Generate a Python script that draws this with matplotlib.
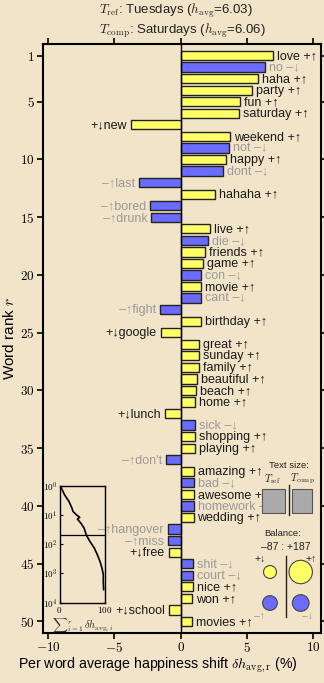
import numpy as np
import matplotlib
matplotlib.use('Agg')
import matplotlib.pyplot as plt
from matplotlib.patches import Circle, Rectangle
from matplotlib.ticker import FuncFormatter

plt.rcParams['mathtext.fontset'] = 'cm'
plt.rcParams['font.family'] = ['Liberation Sans', 'DejaVu Sans']

# word shift data (rank order)
words = ['love', 'no', 'haha', 'party', 'fun', 'saturday', 'new', 'weekend', 'not', 'happy',
         'dont', 'last', 'hahaha', 'bored', 'drunk', 'live', 'die', 'friends', 'game', 'con',
         'movie', 'cant', 'fight', 'birthday', 'google', 'great', 'sunday', 'family', 'beautiful', 'beach',
         'home', 'lunch', 'sick', 'shopping', 'playing', "don't", 'amazing', 'bad', 'awesome', 'homework',
         'wedding', 'hangover', 'miss', 'free', 'shit', 'court', 'nice', 'won', 'school', 'movies']
word_type = ['+', '-', '+', '+', '+', '+', '+', '+', '-', '+',
             '-', '-', '+', '-', '-', '+', '-', '+', '+', '-',
             '+', '-', '-', '+', '+', '+', '+', '+', '+', '+',
             '+', '+', '-', '+', '+', '-', '+', '-', '+', '-',
             '+', '-', '-', '+', '-', '-', '+', '+', '+', '+']
shifts = [6.94, 6.36, 5.81, 5.40, 4.50, 4.44, -3.74, 3.74, 3.66, 3.43,
          3.18, -3.16, 2.60, -2.30, -2.22, 2.22, 2.07, 1.87, 1.69, 1.57,
          1.56, 1.54, -1.54, 1.52, -1.52, 1.41, 1.41, 1.40, 1.24, 1.16,
          1.11, -1.16, 1.09, 1.06, 1.05, -1.11, 1.03, 1.01, 1.00, 0.98,
          0.97, -0.96, -0.95, -0.91, 0.93, 0.92, 0.90, 0.89, -0.88, 0.87]

# cumulative shift (inset)
cum_rank = [1, 2.08, 3.51, 5.93, 7.7, 10.0, 12.3, 14.0, 19.2, 28.5,
            50.6, 81, 136, 230, 390, 660, 1110, 1880, 3640]
cum_shift = [1.5, 11.1, 20.7, 27.4, 29.6, 37.0, 44.4, 39.3, 46.7, 54.0,
             59.3, 66.7, 76.3, 83.0, 88.9, 93.3, 96.3, 96.3, 97.0]

# summary panels
text_size = [1.0, 0.83]            # T_ref, T_comp
balance = [-38, 124, -49, 63]      # +down, +up, -up, -down

ref_name, ref_h = 'Tuesdays', 6.03
comp_name, comp_h = 'Saturdays', 6.06

yellow = '#ffff66'
blue = '#6b6bff'
gray = '#9a9a9a'
bg = '#f1e4c8'

fig = plt.figure(figsize=(3.24, 6.83), dpi=100, facecolor=bg)
ax = fig.add_axes([43 / 324, 1 - 633 / 683, 278 / 324, 589 / 683], facecolor=bg)

ranks = np.arange(1, len(words) + 1)
colors = [yellow if t == '+' else blue for t in word_type]
ax.barh(ranks, shifts, height=0.8, color=colors, edgecolor='#222222', linewidth=1.0, zorder=3)
ax.axvline(0, color='black', lw=1.0, zorder=4)

for r, w, t, s in zip(ranks, words, word_type, shifts):
    sign = '+' if t == '+' else '\u2013'
    up = (t == '+') == (s > 0)
    arrow = '\u2191' if up else '\u2193'
    col = '#1a1a1a' if t == '+' else gray
    if s > 0:
        ax.text(s + 0.3, r + 0.05, f'{w} {sign}{arrow}', ha='left', va='center', fontsize=9.0,
                color=col, zorder=5)
    else:
        ax.text(s - 0.3, r + 0.05, f'{sign}{arrow}{w}', ha='right', va='center', fontsize=9.0,
                color=col, zorder=5)

ax.set_xlim(-10.4, 10.6)
ax.set_ylim(51, 0)
ax.set_xticks([-10, -5, 0, 5, 10])
ax.set_yticks([1, 5, 10, 15, 20, 25, 30, 35, 40, 45, 50])
ax.xaxis.set_major_formatter(FuncFormatter(lambda v, p: f'${v:g}$'))
ax.yaxis.set_major_formatter(FuncFormatter(lambda v, p: f'${v:g}$'))
ax.tick_params(direction='out', top=True, right=True, length=4, width=1.2, labelsize=9.5, pad=2)
for sp in ax.spines.values():
    sp.set_linewidth(1.5)
ax.set_xlabel(r'Per word average happiness shift $\delta h_{\rm avg,r}$ (%)', fontsize=10.2, labelpad=3)
ax.xaxis.set_label_coords(0.414, -0.038)
ax.set_ylabel(r'Word rank $r$', fontsize=11, labelpad=2)
fig.text(182 / 324, 1 - 20.5 / 683,
         f'$T_{{\\rm ref}}$: {ref_name} ($h_{{\\rm avg}}$={ref_h:.2f})\n'
         f'$T_{{\\rm comp}}$: {comp_name} ($h_{{\\rm avg}}$={comp_h:.2f})',
         fontsize=9.5, ha='center', va='center', multialignment='left', color='#222222',
         linespacing=1.15)

# inset: cumulative sum
ins = fig.add_axes([59.5 / 324, 1 - 602.5 / 683, 45.5 / 324, 117 / 683], facecolor='none')
ins.plot(cum_shift, cum_rank, color='black', lw=1.2)
ins.axhline(50, color='black', lw=0.9)
ins.set_yscale('log')
ins.set_ylim(1e4, 1)
ins.set_xlim(0, 100)
ins.set_xticks([0, 100])
ins.set_yticks([1, 10, 100, 1000, 10000])
ins.set_yticklabels([r'$10^{0}$', r'$10^{1}$', r'$10^{2}$', r'$10^{3}$', r'$10^{4}$'])
ins.xaxis.set_major_formatter(FuncFormatter(lambda v, p: f'${v:g}$'))
ins.minorticks_off()
ins.tick_params(direction='in', length=2, width=0.8, labelsize=6.5, pad=1.5)
for sp in ins.spines.values():
    sp.set_linewidth(1.0)
ins.set_xlabel(r'${\sum}_{i=1}^{r}\,\delta h_{{\rm avg},i}$', fontsize=7.5, labelpad=1, color='#333333')

# overlay in pixel coordinates for summary panels
ov = fig.add_axes([0, 0, 1, 1], facecolor='none')
ov.set_xlim(0, 324)
ov.set_ylim(683, 0)
ov.axis('off')

ov.text(289, 466, 'Text size:', ha='center', va='center', fontsize=6.8, color='#222222')
ov.text(272, 479, r'$T_{\rm ref}$', ha='center', va='center', fontsize=7.5, color='#222222')
ov.text(302, 479, r'$T_{\rm comp}$', ha='center', va='center', fontsize=7.5, color='#222222')
for cx, s in zip([273.5, 302], text_size):
    w = 23.5 * s
    ov.add_patch(Rectangle((cx - w / 2, 489), w, 24, facecolor='#aaaaaa', edgecolor='#555555', lw=0.8))
ov.plot([288.5, 288.5], [485, 515], color='#222222', lw=1.0)

ov.text(283, 533, 'Balance:', ha='center', va='center', fontsize=6.8, color='#222222')
neg_total = balance[0] + balance[2]
pos_total = balance[1] + balance[3]
ov.text(285.5, 547, f'\u2013{abs(neg_total)} : +{pos_total}', ha='center', va='center',
        fontsize=7.5, color='#222222')
ov.plot([285.7, 285.7], [556, 617], color='#222222', lw=1.0)
circ_xy = [(270, 572), (300.7, 572), (270, 603), (300.7, 603)]
circ_col = [yellow, yellow, blue, blue]
for (cx, cy), v, c in zip(circ_xy, balance, circ_col):
    ov.add_patch(Circle((cx, cy), 1.05 * np.sqrt(abs(v)), facecolor=c, edgecolor='#444444', lw=0.8))
ov.text(260, 559, '+\u2193', ha='center', va='center', fontsize=7.5, color='#222222')
ov.text(311, 559, '+\u2191', ha='center', va='center', fontsize=7.5, color='#222222')
ov.text(260, 616, '\u2013\u2191', ha='center', va='center', fontsize=7.5, color=gray)
ov.text(308, 616, '\u2013\u2193', ha='center', va='center', fontsize=7.5, color=gray)

fig.savefig('out.png', dpi=100, facecolor=bg)
